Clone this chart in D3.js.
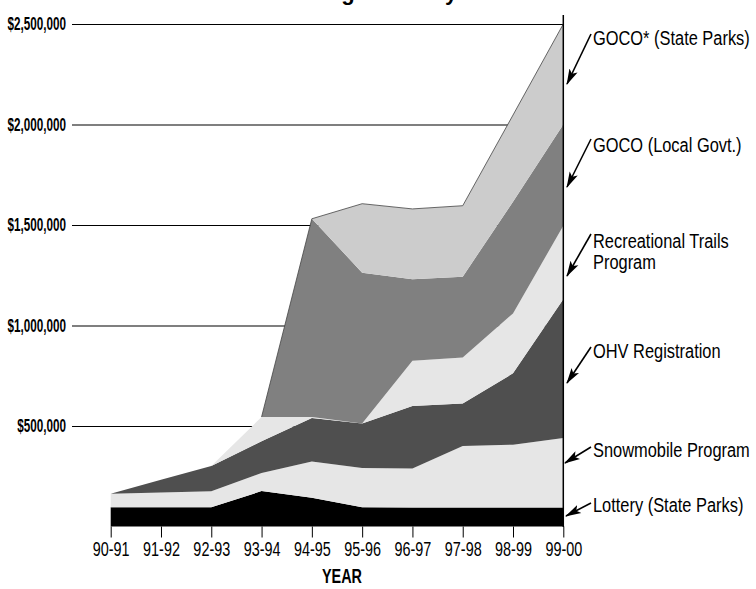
<!DOCTYPE html>
<html>
<head>
<meta charset="utf-8">
<script src="https://cdn.jsdelivr.net/npm/d3@7"></script>
<style>
  html, body { margin: 0; padding: 0; background: #fff; }
  svg { display: block; }
  text { font-family: "Liberation Sans", Arial, sans-serif; }
</style>
</head>
<body>
<svg id="chart" width="756" height="589"></svg>
<script>
// ---- Data (values in dollars) ----
const years = ["90-91","91-92","92-93","93-94","94-95","95-96","96-97","97-98","98-99","99-00"];
const lottery     = [96000, 96000, 96000, 176000, 143000, 96000, 95000, 95000, 95000, 95000];
const snowmobile  = [67000, 73000, 79000, 90000, 181000, 195000, 193000, 305000, 312000, 345000];
const ohv         = [0, 63000, 126000, 158000, 216000, 221000, 312000, 212000, 355000, 691000];
const recTrails   = [0, 0, 0, 121000, 5000, 1000, 225000, 229000, 298000, 365000];
const gocoLocal   = [0, 0, 0, 0, 986000, 750000, 405000, 402000, 556000, 504000];
const gocoState   = [0, 0, 0, 0, 0, 343000, 350000, 353000, 431000, 500000];
const yTicks      = [500000, 1000000, 1500000, 2000000, 2500000];
const seriesNames = ["Lottery (State Parks)", "Snowmobile Program", "OHV Registration",
                     "Recreational Trails Program", "GOCO (Local Govt.)", "GOCO* (State Parks)"];
const seriesLabelLines = [["Lottery (State Parks)"], ["Snowmobile Program"], ["OHV Registration"],
                          ["Recreational Trails", "Program"], ["GOCO (Local Govt.)"], ["GOCO* (State Parks)"]];
const titleText = "Trail Funding Sources by Year";

// ---- Build table ----
const seriesArrays = [lottery, snowmobile, ohv, recTrails, gocoLocal, gocoState];
const keys = seriesNames;
const table = years.map((yr, i) => {
  const row = { year: yr };
  keys.forEach((k, j) => row[k] = seriesArrays[j][i]);
  return row;
});
const stacked = d3.stack().keys(keys)(table);

// condensed look: squeeze text horizontally
function condense(sel, f) {
  sel.each(function () {
    const w = this.getComputedTextLength();
    d3.select(this).attr("textLength", w * f).attr("lengthAdjust", "spacingAndGlyphs");
  });
}

// ---- Layout ----
const svg = d3.select("#chart");
const xLeft = 110.7, xRight = 563.3;
const yBottom = 526.5, yTop = 24;
const x = d3.scalePoint().domain(years).range([xLeft, xRight]);
const y = d3.scaleLinear().domain([0, 2500000]).range([yBottom, yTop]);
const fills = ["#000000", "#e6e6e6", "#4f4f4f", "#e6e6e6", "#808080", "#cccccc"];

// Title (mostly clipped at the top of the picture)
const title = svg.append("text")
  .attr("x", 240).attr("y", 0)
  .attr("font-size", 22).attr("font-weight", "bold")
  .attr("fill", "#000")
  .text(titleText);

// Gridlines + y labels via axis
const yAxis = d3.axisLeft(y).tickValues(yTicks)
  .tickSize(-(xRight - 72)).tickPadding(6)
  .tickFormat(d => "$" + d3.format(",")(d));
const gy = svg.append("g").attr("transform", "translate(72,0)").call(yAxis);
gy.select(".domain").remove();
gy.selectAll(".tick line").attr("stroke", "#000").attr("stroke-width", 1.2);
gy.selectAll(".tick text")
  .attr("font-size", 18).attr("font-weight", "bold")
  .attr("fill", "#000");
condense(gy.selectAll(".tick text"), 0.65);

// Areas
const area = d3.area()
  .x((d, i) => x(years[i]))
  .y0(d => y(d[0]))
  .y1(d => y(d[1]))
  .curve(d3.curveLinear);
svg.append("g").selectAll("path")
  .data(stacked).join("path")
  .attr("d", area)
  .attr("fill", (d, i) => fills[i]);

// Thin outline along the outer edge of the GOCO layers
const topSeries = stacked[stacked.length - 1];
const outlinePts = years.map((yr, i) => [x(yr), y(topSeries[i][1])]).slice(3);
svg.append("path")
  .attr("d", d3.line()(outlinePts))
  .attr("fill", "none").attr("stroke", "#444").attr("stroke-width", 0.8);

// Right vertical line
svg.append("line")
  .attr("x1", xRight).attr("x2", xRight)
  .attr("y1", 15).attr("y2", yBottom + 0.5)
  .attr("stroke", "#000").attr("stroke-width", 1.5);

// X axis ticks + labels
const xAxis = d3.axisBottom(x).tickSize(11).tickPadding(4);
const gx = svg.append("g").attr("transform", `translate(0,${yBottom})`).call(xAxis);
gx.select(".domain").remove();
gx.selectAll(".tick line").attr("stroke", "#000").attr("stroke-width", 1);
gx.selectAll(".tick text")
  .attr("font-size", 20)
  .attr("fill", "#000");
condense(gx.selectAll(".tick text"), 0.72);

const yearLabel = svg.append("text")
  .attr("x", 342).attr("y", 583)
  .attr("text-anchor", "middle")
  .attr("font-size", 20).attr("font-weight", "bold")
  .attr("fill", "#000")
  .text("YEAR");
condense(yearLabel, 0.72);

// Legend labels with arrows
const defs = svg.append("defs");
defs.append("marker")
  .attr("id", "arrow").attr("viewBox", "0 -5 16 10")
  .attr("refX", 15).attr("refY", 0)
  .attr("markerWidth", 16).attr("markerHeight", 10)
  .attr("markerUnits", "userSpaceOnUse")
  .attr("orient", "auto")
  .append("path").attr("d", "M0,-4.5 L16,0 L0,4.5 L3.5,0 Z").attr("fill", "#000");

const legendBaselines = [511.5, 456.5, 358, 248, 151.5, 45];
const arrowStarts = [[591, 503], [591, 447], [591, 347], [591, 234], [591, 139], [591, 34]];
const arrowEnds   = [[566, 516], [565, 463], [567, 383], [567, 276], [567, 187], [567, 84]];
const lg = svg.append("g");
seriesLabelLines.forEach((lines, i) => {
  lines.forEach((ln, j) => {
    const t = lg.append("text")
      .attr("x", 593).attr("y", legendBaselines[i] + j * 21)
      .attr("font-size", 20).attr("fill", "#000")
      .text(ln);
    condense(t, 0.82);
  });
  lg.append("line")
    .attr("x1", arrowStarts[i][0]).attr("y1", arrowStarts[i][1])
    .attr("x2", arrowEnds[i][0]).attr("y2", arrowEnds[i][1])
    .attr("stroke", "#000").attr("stroke-width", 1.6)
    .attr("marker-end", "url(#arrow)");
});

// Align the title's visible descenders ("g" and "y" of "by")
try {
  const node = title.node();
  const gi = titleText.indexOf("g");
  const yi = titleText.indexOf("by") + 1;
  const eg = node.getExtentOfChar(gi), ey = node.getExtentOfChar(yi);
  const gc = eg.x + eg.width / 2, yc = ey.x + ey.width / 2;
  const ls = ((450 - 347) - (yc - gc)) / (yi - gi);
  title.attr("letter-spacing", ls);
  const eg2 = node.getExtentOfChar(gi);
  const gc2 = eg2.x + eg2.width / 2;
  title.attr("x", 240 + (347 - gc2));
} catch (e) {}
</script>
</body>
</html>
